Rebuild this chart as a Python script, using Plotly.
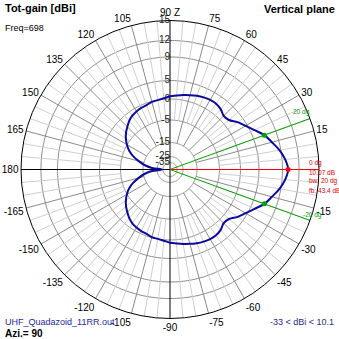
import numpy as np
import plotly.graph_objects as go

# Elevation cut, upper half (deg); the cut is symmetric about 0 deg
angles_deg = [0, 5, 10, 15, 20, 25, 30, 35, 40, 45, 50, 55, 60, 65, 70, 75, 80, 85, 90,
              95, 100, 105, 110, 115, 120, 125, 130, 135, 140, 145, 150, 155, 160, 165,
              170, 175, 180]
gain_dbi = [10.07, 9.6, 8.8, 7.9, 7.07, 5.8, 4.6, 3.4, 1.9, 1.6, 2.4, 2.8, 2.8, 2.6, 2.3,
            1.9, 1.5, 1.1, 0.8, 0.3, 0.0, -0.1, -0.4, -0.5, -0.7, -1.0, -1.5, -2.2, -2.9,
            -3.8, -4.9, -6.5, -8.8, -12.0, -15.5, -20.5, -33.0]

# Radial scale rings (dBi) and their relative radius on the chart
ring_db = [15, 12, 9, 5, 0, -5, -15, -25, -35]
ring_radius = [1.0, 0.866, 0.755, 0.597, 0.473, 0.332, 0.181, 0.087, 0.047]

angle_ticks = list(range(0, 360, 15))
angle_labels = ["" if a == 0 else "90 Z" if a == 90 else str(a) if a <= 180 else str(a - 360)
                for a in angle_ticks]

max_dir = 0
max_gain = 10.07
bw_dirs = [20, -20]
bw_gain = 7.07

W = H = 339
CX, CY, R = 170, 169.5, 149


def to_r(db):
    db = np.asarray(db, dtype=float)
    lr = np.interp(db, ring_db[::-1], np.log(ring_radius)[::-1])
    return np.exp(lr)


def px(x, y):
    return x / W, 1 - y / H


fig = go.Figure()

# grid rings
for d in ring_db[1:]:
    th = np.linspace(0, 360, 361)
    fig.add_trace(go.Scatterpolar(r=np.full_like(th, float(to_r(d))), theta=th, mode="lines",
                                  line=dict(color="#8a8a8a", width=1), hoverinfo="skip"))

# spokes: light every 5 deg, darker every 15 deg
light_r, light_t, dark_r, dark_t = [], [], [], []
for a in range(0, 360, 5):
    if a % 90 == 0:
        continue
    if a % 15 == 0:
        dark_r += [float(to_r(-15)), 1, None]
        dark_t += [a, a, None]
    else:
        light_r += [float(to_r(-5)), 1, None]
        light_t += [a, a, None]
fig.add_trace(go.Scatterpolar(r=light_r, theta=light_t, mode="lines",
                              line=dict(color="#cfcfcf", width=1), hoverinfo="skip"))
fig.add_trace(go.Scatterpolar(r=dark_r, theta=dark_t, mode="lines",
                              line=dict(color="#8a8a8a", width=1), hoverinfo="skip"))

# main axes
fig.add_trace(go.Scatterpolar(r=[1, 0, 1, None, 1, 0, 1], theta=[180, 0, 0, None, 90, 0, 270],
                              mode="lines", line=dict(color="black", width=1), hoverinfo="skip"))

# beamwidth and max-direction lines
for a in bw_dirs:
    fig.add_trace(go.Scatterpolar(r=[0, 1], theta=[a, a], mode="lines",
                                  line=dict(color="#00a000", width=1), hoverinfo="skip"))
fig.add_trace(go.Scatterpolar(r=[0, 1], theta=[max_dir, max_dir], mode="lines",
                              line=dict(color="#ff0000", width=1), hoverinfo="skip"))

# ring labels along the vertical axis
fig.add_trace(go.Scatterpolar(r=to_r(ring_db), theta=[90] * len(ring_db), mode="text",
                              text=[str(d) for d in ring_db], textposition="middle left",
                              textfont=dict(family="Liberation Sans", size=10, color="#222222"),
                              hoverinfo="skip"))

# radiation pattern
theta_full = [-a for a in angles_deg[::-1]] + angles_deg[1:]
gain_full = gain_dbi[::-1] + gain_dbi[1:]
fig.add_trace(go.Scatterpolar(r=to_r(gain_full), theta=theta_full, mode="lines",
                              line=dict(color="#0a0aa0", width=2, shape="spline"),
                              hoverinfo="skip"))

# markers
fig.add_trace(go.Scatterpolar(r=to_r([bw_gain, bw_gain]), theta=bw_dirs, mode="markers",
                              marker=dict(color="#00a000", size=5), hoverinfo="skip"))
fig.add_trace(go.Scatterpolar(r=to_r([max_gain]), theta=[max_dir], mode="markers",
                              marker=dict(color="#ff0000", size=5), hoverinfo="skip"))

ann = []


def text(x, y, s, size=9, color="black", bold=False, anchor="left"):
    xx, yy = px(x, y)
    ann.append(dict(x=xx, y=yy, xref="paper", yref="paper", text=f"<b>{s}</b>" if bold else s,
                    showarrow=False, xanchor=anchor, yanchor="middle",
                    font=dict(family="Liberation Sans", size=size, color=color)))


text(3, 8, "Tot-gain [dBi]", size=11, bold=True)
text(337, 9, "Vertical plane", size=11, bold=True, anchor="right")
text(3, 28, "Freq=698", size=9)
text(3, 322, "UHF_Quadazoid_11RR.out", size=9, color="#2626a6")
text(3, 333, "Azi.= 90", size=10, bold=True)
text(336, 322, "-33 < dBi < 10.1", size=9, color="#2a2a8a", anchor="right")

red = "#e00000"
text(307, 163, "0 dg", size=6.5, color=red)
text(307, 172, f"{max_gain:.2f} dB", size=6.5, color=red)
text(307, 181, "bw: 20 dg", size=6.5, color=red)
text(307, 190, "fb: 43.4 dB", size=6.5, color=red)
text(291, 112, "20 dg", size=6.5, color="#00a000")
text(301, 215, "-20 dg", size=6.5, color="#00a000")

fig.update_layout(
    width=W, height=H, margin=dict(l=0, r=0, t=0, b=0),
    paper_bgcolor="white", showlegend=False, annotations=ann,
    polar=dict(
        domain=dict(x=[(CX - R) / W, (CX + R) / W], y=[1 - (CY + R) / H, 1 - (CY - R) / H]),
        bgcolor="white",
        radialaxis=dict(visible=False, range=[0, 1]),
        angularaxis=dict(direction="counterclockwise", rotation=0, tickmode="array",
                         tickvals=angle_ticks, ticktext=angle_labels, showgrid=False,
                         showline=True, linecolor="black", linewidth=1, ticks="",
                         tickfont=dict(family="Liberation Sans", size=10, color="black")),
    ),
)

fig.write_html("out.html")
